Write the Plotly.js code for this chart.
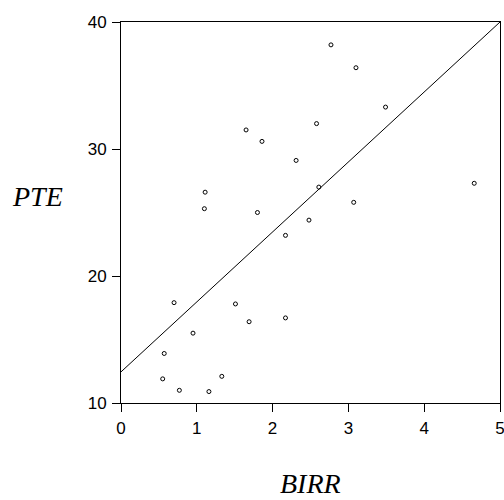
<!DOCTYPE html>
<html>
<head>
<meta charset="utf-8">
<script src="https://cdn.plot.ly/plotly-3.0.1.min.js"></script>
<style>html,body{margin:0;padding:0;background:#fff;}#chart{width:504px;height:500px;}</style>
</head>
<body>
<div id="chart"></div>
<script>
const birr = [1.65, 1.86, 2.31, 1.11, 1.10, 2.77, 3.10, 3.49, 2.58, 2.61, 4.66, 3.07, 1.80, 2.17, 2.48, 0.70, 1.51, 1.69, 2.17, 0.95, 0.57, 0.55, 1.33, 0.77, 1.16];
const pte  = [31.5, 30.6, 29.1, 26.6, 25.3, 38.2, 36.4, 33.3, 32.0, 27.0, 27.3, 25.8, 25.0, 23.2, 24.4, 17.9, 17.8, 16.4, 16.7, 15.5, 13.9, 11.9, 12.1, 11.0, 10.9];
const fitX = [0, 5];
const fitY = [12.45, 40];
const xTicks = [0, 1, 2, 3, 4, 5];
const yTicks = [10, 20, 30, 40];

const traces = [
  {x: fitX, y: fitY, type: 'scatter', mode: 'lines', line: {color: '#000', width: 1}, hoverinfo: 'skip', cliponaxis: false},
  {x: birr, y: pte, type: 'scatter', mode: 'markers',
   marker: {symbol: 'circle-open', size: 4, color: '#000', line: {width: 1, color: '#000'}}}
];

const axisCommon = {
  showgrid: false, zeroline: false, showline: true, linecolor: '#000', linewidth: 1,
  mirror: true, ticks: 'outside', ticklen: 8, tickcolor: '#000', tickwidth: 1,
  ticklabeloverflow: 'allow',
  tickfont: {family: 'Liberation Sans, Arial, sans-serif', size: 17, color: '#000'}
};

const titleFont = {family: 'Liberation Serif, Times New Roman, serif', size: 28, color: '#000', style: 'italic'};

const layout = {
  width: 504, height: 500,
  margin: {l: 121, r: 4, t: 22, b: 97},
  showlegend: false,
  paper_bgcolor: '#fff', plot_bgcolor: '#fff',
  xaxis: Object.assign({}, axisCommon, {range: [0, 5], tickvals: xTicks, ticktext: xTicks.map(String), ticklabelstandoff: 2}),
  yaxis: Object.assign({}, axisCommon, {range: [10, 40], tickvals: yTicks, ticktext: yTicks.map(String), ticklabelstandoff: 2}),
  annotations: [
    {text: 'PTE', xref: 'paper', yref: 'paper', x: -0.22, y: 0.541, xanchor: 'center', yanchor: 'middle',
     showarrow: false, font: titleFont},
    {text: 'BIRR', xref: 'paper', yref: 'paper', x: 0.5, y: -0.2535, xanchor: 'center', yanchor: 'bottom',
     borderpad: 0, showarrow: false, font: titleFont}
  ]
};

Plotly.newPlot('chart', traces, layout, {displayModeBar: false, staticPlot: true});
</script>
</body>
</html>
